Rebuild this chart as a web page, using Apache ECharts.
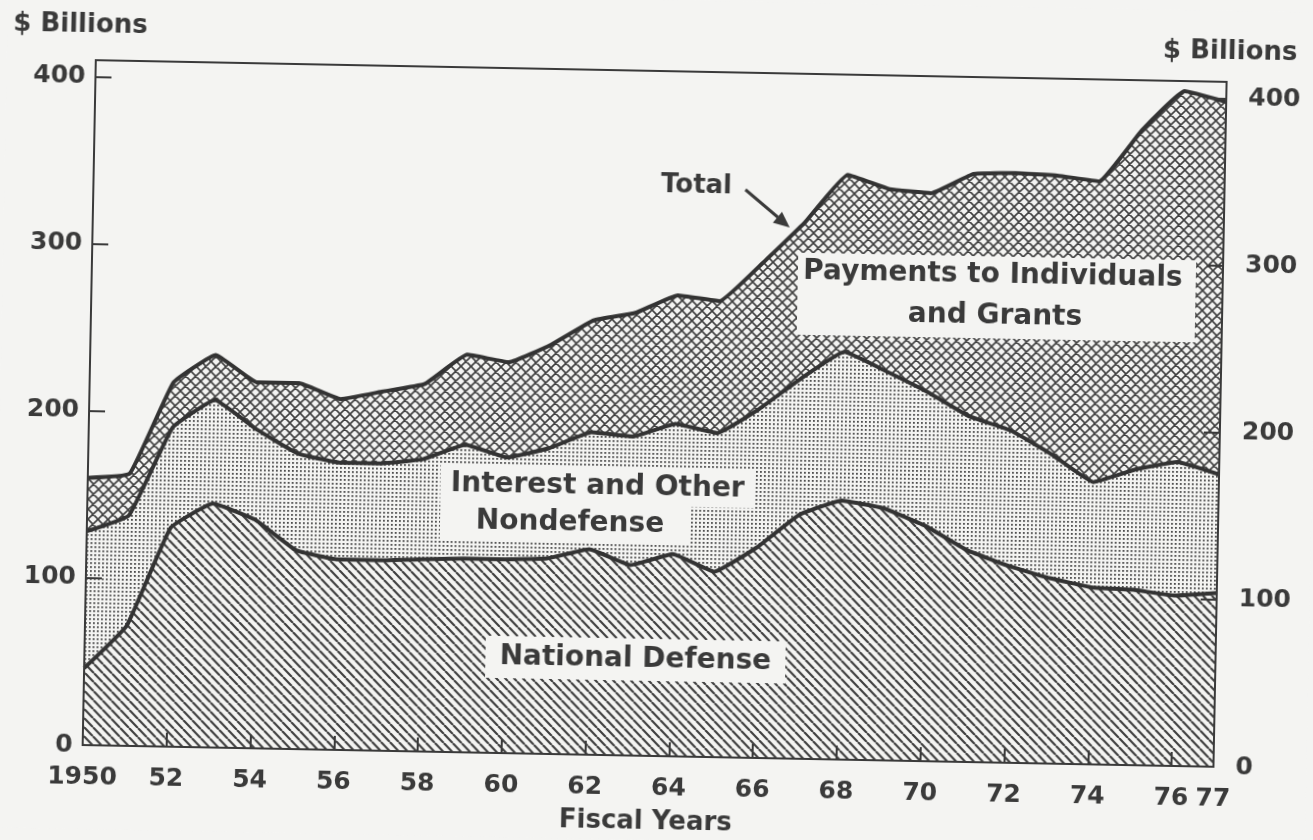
<html>
<head>
    <title>outlays</title>
    <script src="https://cdn.jsdelivr.net/npm/echarts@6/dist/echarts.min.js"></script>
    <style>
        body { margin: 0; background: #f4f4f2; }
        #chart { width: 1313px; height: 840px; transform: rotate(1.1deg); transform-origin: 656.5px 420px; }
    </style>
</head>
<body>
    <div id="chart"></div>
    <script>
        // fiscal years 1950..1977, $ billions (stacked)
        var years = ['1950', '1951', '1952', '1953', '1954', '1955', '1956', '1957', '1958', '1959',
            '1960', '1961', '1962', '1963', '1964', '1965', '1966', '1967', '1968', '1969',
            '1970', '1971', '1972', '1973', '1974', '1975', '1976', '1977'];
        var defense = [46, 72, 131, 146, 137, 119, 114, 114, 115, 116, 116, 117, 123, 114, 121, 111, 126, 146, 155, 151, 141, 127, 118, 111, 106, 105, 102, 104];
        var interestOther = [82, 66, 60, 62, 54, 58, 58, 58, 60, 68, 61, 66, 70, 77, 78, 83, 83, 82, 89, 82, 80, 80, 81, 74, 63, 72, 80, 71];
        var payments = [32, 25, 27, 27, 28, 42, 38, 43, 45, 54, 57, 62, 67, 74, 77, 79, 87, 93, 106, 109, 119, 145, 154, 167, 180, 203, 222, 223];
        var yTicks = [0, 100, 200, 300, 400];

        var bg = '#f4f4f2';
        var ink = '#3a3a3a';
        var font = 'DejaVu Sans';

        function tile(size, draw) {
            var c = document.createElement('canvas');
            c.width = c.height = size;
            var g = c.getContext('2d');
            g.fillStyle = bg;
            g.fillRect(0, 0, size, size);
            g.strokeStyle = '#404040';
            g.fillStyle = '#404040';
            draw(g, size);
            return { image: c, repeat: 'repeat' };
        }
        var diag = tile(9, function(g, s) {
            g.lineWidth = 2.2;
            g.beginPath();
            for (var k = -1; k <= 1; k++) {
                g.moveTo(k * s, 0);
                g.lineTo(k * s + s, s);
            }
            g.stroke();
        });
        var dots = tile(4, function(g, s) {
            g.fillStyle = '#4a4a4a';
            g.fillRect(1, 1, 1.8, 1.8);
        });
        var cross = tile(10, function(g, s) {
            g.lineWidth = 1.6;
            g.beginPath();
            for (var k = -1; k <= 1; k++) {
                g.moveTo(k * s, 0);
                g.lineTo(k * s + s, s);
                g.moveTo(k * s, s);
                g.lineTo(k * s + s, 0);
            }
            g.stroke();
        });

        function yAxisCfg(pos) {
            return {
                type: 'value',
                position: pos,
                min: 0,
                max: 410,
                interval: 100,
                z: 10,
                splitLine: { show: false },
                axisLine: { show: true, lineStyle: { color: ink, width: 2 } },
                axisTick: { show: true, inside: true, length: 16, lineStyle: { color: ink, width: 2 } },
                axisLabel: {
                    margin: pos === 'left' ? 10 : 22,
                    color: ink,
                    fontFamily: font,
                    fontWeight: 'bold',
                    fontSize: 25,
                    formatter: function(v) { return yTicks.indexOf(v) >= 0 ? String(v) : ''; }
                }
            };
        }

        function area(name, data, pattern) {
            return {
                name: name,
                type: 'line',
                stack: 'total',
                data: data,
                symbol: 'none',
                smooth: 0.1,
                lineStyle: { color: '#333', width: 4 },
                areaStyle: { color: pattern, opacity: 1 },
                z: 2
            };
        }

        function label(x, y, text, size) {
            return {
                type: 'text', x: x, y: y, z: 101,
                style: {
                    text: text, align: 'center', verticalAlign: 'middle',
                    fill: ink, font: 'bold ' + size + 'px "' + font + '"'
                }
            };
        }
        function box(cx, cy, w, h) {
            return {
                type: 'rect', z: 100,
                shape: { x: cx - w / 2, y: cy - h / 2, width: w, height: h },
                style: { fill: bg }
            };
        }

        var chart = echarts.init(document.getElementById('chart'));
        chart.setOption({
            backgroundColor: bg,
            animation: false,
            grid: { left: 89, right: 93, top: 71, bottom: 84, show: true, borderColor: ink, borderWidth: 2 },
            xAxis: {
                type: 'category',
                data: years,
                boundaryGap: false,
                z: 10,
                axisLine: { lineStyle: { color: ink, width: 2 } },
                axisTick: {
                    inside: true, length: 14, lineStyle: { color: ink, width: 2 },
                    interval: function(i) { return i % 2 === 0; }
                },
                axisLabel: {
                    margin: 6,
                    color: ink,
                    fontFamily: font,
                    fontWeight: 'bold',
                    fontSize: 25,
                    interval: function(i, v) { return i % 2 === 0 || v === '1977'; },
                    formatter: function(v) { return v === '1950' ? v : v.slice(2); }
                }
            },
            yAxis: [yAxisCfg('left'), yAxisCfg('right')],
            series: [
                area('National Defense', defense, diag),
                area('Interest and Other Nondefense', interestOther, dots),
                area('Payments to Individuals and Grants', payments, cross)
            ],
            graphic: [
                label(73, 36, '$ Billions', 26),
                label(1223, 41, '$ Billions', 26),
                label(653, 822, 'Fiscal Years', 26),
                label(692, 185, 'Total', 26),
                { type: 'line', z: 101, shape: { x1: 741, y1: 188, x2: 774, y2: 215 }, style: { stroke: ink, lineWidth: 3 } },
                { type: 'polygon', z: 101, shape: { points: [[786, 225], [769, 220.5], [778, 209.5]] }, style: { fill: ink } },
                box(994, 291, 398, 82),
                label(990, 269, 'Payments to Individuals', 28),
                label(993, 310, 'and Grants', 28),
                box(599, 487, 315, 39),
                box(567, 525, 250, 38),
                label(599, 488, 'Interest and Other', 28),
                label(572, 525, 'Nondefense', 28),
                box(640, 660, 300, 42),
                label(640, 660, 'National Defense', 28)
            ]
        });
    </script>
</body>
</html>
